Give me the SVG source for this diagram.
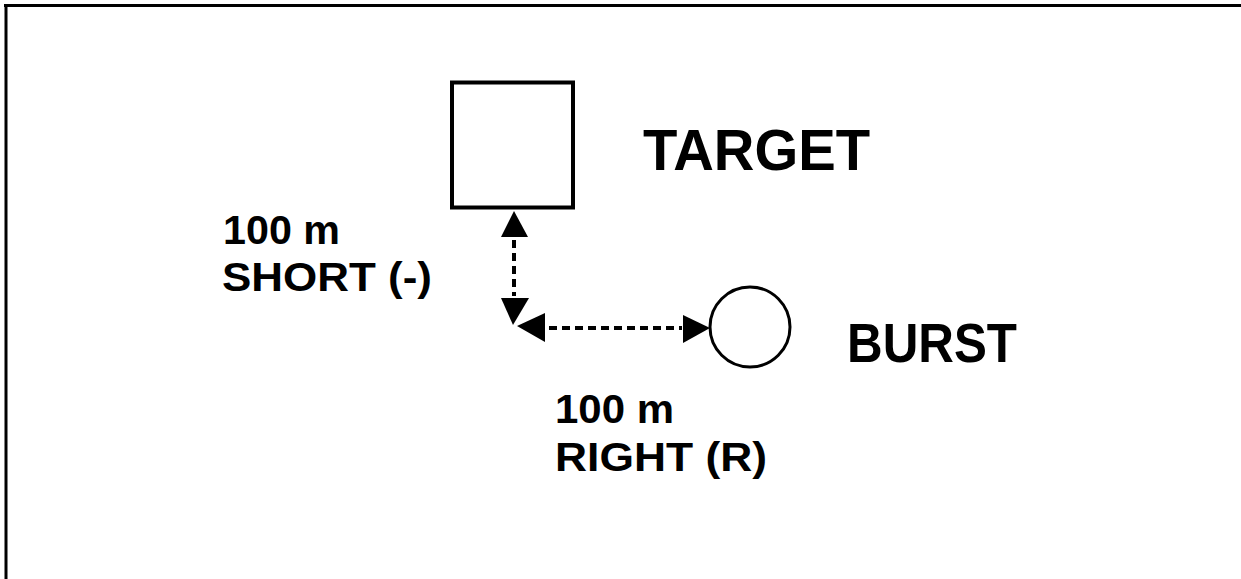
<svg xmlns="http://www.w3.org/2000/svg" width="1241" height="579" viewBox="0 0 1241 579">
<style>
.t{font-family:"Liberation Sans",Arial,sans-serif;font-weight:bold;fill:#000}
.dash{stroke:#000;stroke-width:4;stroke-dasharray:8 5;fill:none}
.head{fill:#000}
</style>
<rect width="1241" height="579" fill="#fff"/>
<g id="frame" stroke="#000" stroke-width="3" fill="none">
<line x1="4" y1="5.5" x2="1241" y2="5.5"/>
<line x1="6" y1="4" x2="6" y2="579"/>
</g>
<g id="target">
<rect x="452" y="82.5" width="121" height="125" fill="#fff" stroke="#000" stroke-width="4"/>
<text class="t" x="643" y="170" font-size="58" textLength="227" lengthAdjust="spacingAndGlyphs">TARGET</text>
</g>
<g id="burst">
<circle cx="750" cy="327" r="40" fill="#fff" stroke="#000" stroke-width="3"/>
<text class="t" x="847" y="362" font-size="56" textLength="170" lengthAdjust="spacingAndGlyphs">BURST</text>
</g>
<g id="label-short">
<text class="t" x="223" y="244" font-size="40" textLength="117" lengthAdjust="spacingAndGlyphs">100 m</text>
<text class="t" x="222" y="291" font-size="40" textLength="210" lengthAdjust="spacingAndGlyphs">SHORT (-)</text>
</g>
<g id="label-right">
<text class="t" x="555" y="423" font-size="40" textLength="119" lengthAdjust="spacingAndGlyphs">100 m</text>
<text class="t" x="555" y="471" font-size="40" textLength="212" lengthAdjust="spacingAndGlyphs">RIGHT (R)</text>
</g>
<g id="connectors">
<line class="dash" x1="514" y1="240" x2="514" y2="296"/>
<polygon class="head" points="514,211 501,237 528,237"/>
<polygon class="head" points="513,325 501,298 529,298"/>
<line class="dash" x1="549" y1="328" x2="682" y2="328"/>
<polygon class="head" points="517,326 545,313 545,342"/>
<polygon class="head" points="710,328 683,315 683,343"/>
</g>
</svg>
